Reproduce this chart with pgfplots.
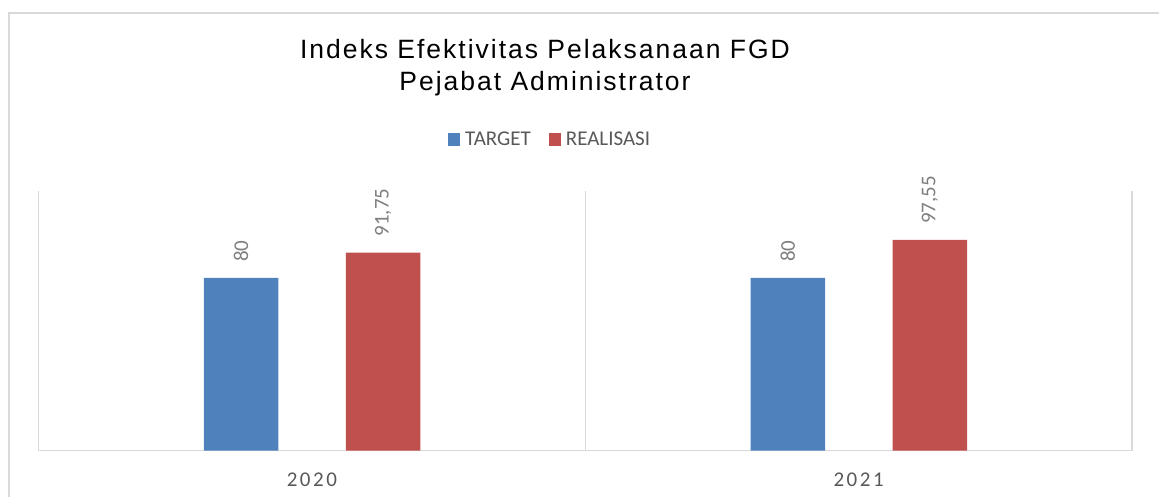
\documentclass[border=0pt]{standalone}
\usepackage{fontspec}
\setmainfont{Carlito}
\newfontfamily\titlefont[LetterSpace=7.5]{Liberation Sans}
\newfontfamily\tickfont[LetterSpace=12]{Carlito}
\usepackage{pgfplots}
\pgfplotsset{compat=1.18}
\definecolor{cblue}{HTML}{4F81BD}
\definecolor{cred}{HTML}{C0504D}
\definecolor{gridc}{HTML}{D9D9D9}
\definecolor{txt}{HTML}{595959}
\definecolor{lbl}{HTML}{7F7F7F}
\begin{document}
\begin{tikzpicture}[x=1bp,y=1bp]
\useasboundingbox (0,0) rectangle (1159,497);
\fill[white] (0,0) rectangle (1159,497);
\draw[gridc, line width=1.5bp] (9,0) -- (9,484) -- (1159,484);
\node[anchor=base, inner sep=0pt, font=\titlefont\fontsize{26.5bp}{32bp}\selectfont] at (545,438) {Indeks Efektivitas Pelaksanaan FGD};
\node[anchor=base, inner sep=0pt, font=\titlefont\fontsize{26.5bp}{32bp}\selectfont] at (545,406) {Pejabat Administrator};
\begin{axis}[
  at={(38.5bp,46.3bp)}, anchor=south west,
  width=1093.5bp, height=259.2bp, scale only axis,
  clip=false,
  ybar, bar width=74.6bp,
  xmin=-0.5, xmax=1.5, ymin=0, ymax=120,
  axis x line*=bottom, axis y line=none,
  x axis line style={draw=gridc, line width=1.2bp, -},
  xtick={0,1}, xticklabels={2020,2021},
  major tick length=0pt,
  extra x ticks={-0.5,0.5,1.5}, extra x tick labels={},
  extra x tick style={grid=major, major grid style={draw=gridc, line width=1.2bp}, major tick length=0pt},
  ytick=\empty,
  xticklabel style={font=\tickfont\fontsize{21bp}{24bp}\selectfont, text=txt, anchor=base, inner sep=0pt, yshift=-36bp},
  nodes near coords={\pgfmathprintnumber[use comma,fixed,precision=2,assume math mode=true]{\pgfplotspointmeta}},
  every node near coord/.append style={rotate=90, anchor=west, font=\fontsize{21bp}{24bp}\selectfont, text=lbl, inner sep=0pt, outer xsep=16bp},
  legend style={at={(0.3745,1.199)}, anchor=west, draw=none, fill=none, inner sep=0pt,
    font=\fontsize{21bp}{24bp}\selectfont, text=txt,
    /tikz/every even column/.append style={column sep=16bp}},
  legend columns=2,
  legend image code/.code={\fill[#1] (0bp,-6.5bp) rectangle (12bp,6.5bp); \path (15bp,0bp);},
]
\addplot[fill=cblue, draw=none, bar shift=-70.8bp] coordinates {(0,80) (1,80)};
\addplot[fill=cred, draw=none, bar shift=71.2bp] coordinates {(0,91.75) (1,97.55)};
\legend{TARGET, REALISASI}
\end{axis}
\end{tikzpicture}
\end{document}
